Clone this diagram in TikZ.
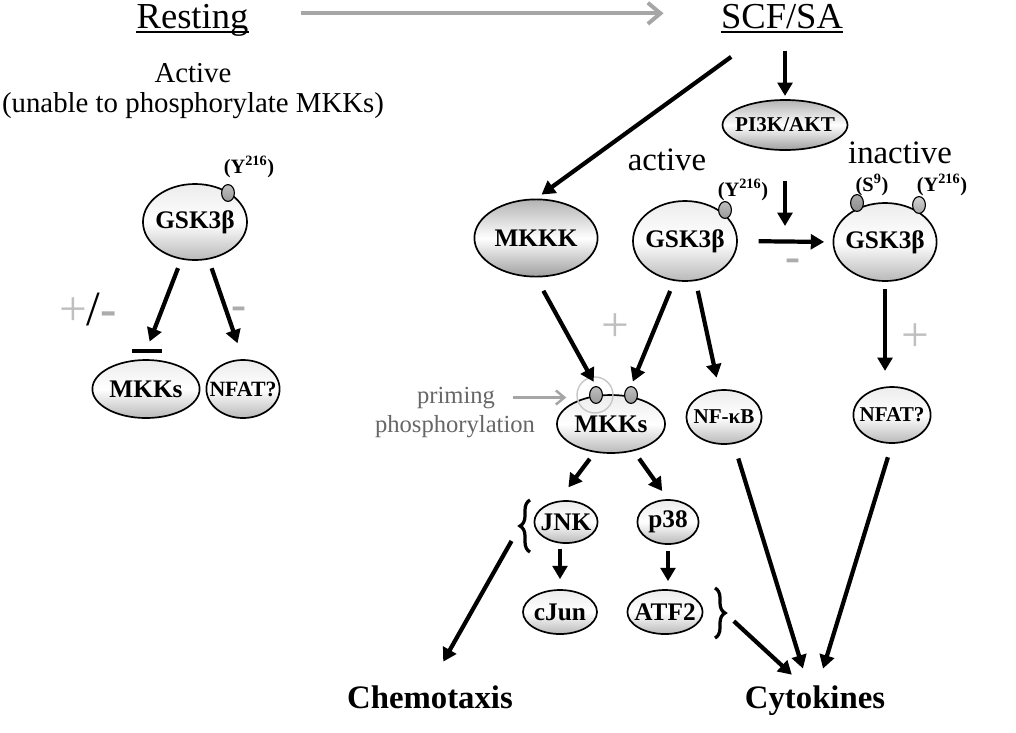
\documentclass[tikz,border=0pt]{standalone}
\usepackage{fontspec}
\setmainfont{Liberation Serif}
\usetikzlibrary{shapes, positioning, arrows.meta, calc}
\usetikzlibrary{decorations.pathreplacing}

\begin{document}
\begin{tikzpicture}[x=0.025cm, y=-0.025cm,
  lt/.style={ellipse, draw, line width=1.2pt, top color=gray!15, bottom color=gray!55, middle color=white, inner sep=-4pt, font=\fontsize{18}{18}\selectfont\bfseries},
  dk/.style={lt, top color=gray!60, bottom color=gray!75, middle color=white},
  sm/.style={font=\fontsize{15}{15}\selectfont\bfseries},
  pdot/.style={ellipse, draw, line width=0.8pt, top color=gray!50, bottom color=gray!80, minimum width=0.32cm, minimum height=0.42cm, inner sep=0},
  plbl/.style={inner sep=0, font=\fontsize{14.5}{14.5}\selectfont\bfseries},
  ttl/.style={inner sep=0, font=\fontsize{26}{26}\selectfont},
  txt/.style={inner sep=0, font=\fontsize{20.5}{20.5}\selectfont},
  txtb/.style={inner sep=0, font=\fontsize{23.3}{23.3}\selectfont},
  gtxt/.style={inner sep=0, text=black!60, font=\fontsize{17.5}{17.5}\selectfont},
  endtxt/.style={inner sep=0, font=\fontsize{23.3}{23.3}\selectfont\bfseries},
  plussign/.style={inner sep=0, text=gray!50, font=\fontsize{35}{35}\selectfont},
  minussign/.style={inner sep=0, text=gray!65, font=\fontsize{32}{32}\selectfont\bfseries},
  arr/.style={line width=3pt, -{Triangle[length=9.5pt, width=10.5pt]}},
  garr/.style={draw=gray!70, line width=2.8pt, -{Straight Barb[length=9pt, width=15pt]}},
  garr2/.style={draw=gray!70, line width=1.8pt, -{Straight Barb[length=6pt, width=10pt]}},
  brc/.style={line width=2.3pt, decorate, decoration={brace, amplitude=0.25cm}}]

\useasboundingbox (0,0) rectangle (1016,732);

% titles
\node[ttl, anchor=base] (resting) at (192.5,28) {Resting};
\node[ttl, anchor=base] (scf) at (782,28) {SCF/SA};
\draw[line width=1pt] ([yshift=-0.1cm]resting.base west) -- ([yshift=-0.1cm]resting.base east);
\draw[line width=1pt] ([yshift=-0.1cm]scf.base west) -- ([yshift=-0.1cm]scf.base east);
\draw[garr, shorten <=1.3cm, shorten >=1.43cm] ($(resting.east)+(0,-6.5)$) -- ($(resting.east -| scf.west)+(0,-6.5)$);

% resting state
\node[txt, anchor=base] (activeL) at (193,82) {Active};
\node[txt, anchor=base] (unable) at (193,112) {(unable to phosphorylate MKKs)};
\node[lt, minimum width=2.6cm, minimum height=1.9cm] (gskL) at (195,222) {GSK3β};
\node[pdot] (dotL) at (228,193) {};
\node[plbl] (yL) at (249,167) {(Y\textsuperscript{216})};
\node[fill=black, minimum width=0.75cm, minimum height=0.12cm, inner sep=0] (barL) at (147,351) {};
\node[lt, minimum width=2.68cm, minimum height=1.45cm] (mkksL) at (146,389) {MKKs};
\node[lt, minimum width=1.83cm, minimum height=1.45cm, inner xsep=-9pt, font=\fontsize{15.5}{15.5}\selectfont\bfseries] (nfatL) at (243,389) {NFAT?};
\node[inner sep=0, anchor=base, font=\fontsize{35}{35}\selectfont] (pmL) at (88,325) {{\color{gray!50}+}/{\color{gray!65}\bfseries -}};
\node[minussign] (mL) at (239,313) {-};

\draw[arr, shorten <=0.23cm, shorten >=0.18cm] (gskL.250) -- (barL.north);
\draw[arr, shorten <=0.23cm, shorten >=0.42cm] (gskL.290) -- (nfatL.north);

% stimulated state
\node[dk, sm, minimum width=3.1cm, minimum height=1.25cm] (pi3k) at (785,125) {PI3K/AKT};
\node[dk, minimum width=3.08cm, minimum height=1.93cm] (mkkk) at (536,238) {MKKK};
\node[txtb, anchor=base] (activeR) at (667,170) {active};
\node[lt, minimum width=2.6cm, minimum height=2cm] (gskA) at (685,241) {GSK3β};
\node[pdot] (dotA) at (725,210) {};
\node[plbl] (yA) at (743,190) {(Y\textsuperscript{216})};
\node[txtb, anchor=base] (inactive) at (900,163) {inactive};
\node[lt, minimum width=2.58cm, minimum height=1.95cm] (gskI) at (885,242) {GSK3β};
\node[pdot, top color=gray!65, bottom color=gray!90] (dotS) at (857,203) {};
\node[pdot, top color=gray!35, bottom color=gray!70] (dotY) at (919,205) {};
\node[plbl] (sI) at (872,185) {(S\textsuperscript{9})};
\node[plbl] (yI) at (942,185) {(Y\textsuperscript{216})};
\node[minussign] (mA) at (793,265) {-};

\node[lt, minimum width=2.7cm, minimum height=1.45cm] (mkksR) at (611,424) {MKKs};
\node[pdot] (dot1) at (596,395) {};
\node[pdot] (dot2) at (631,395) {};
\node[circle, draw=gray!45, line width=1pt, minimum size=0.9cm, inner sep=0] (ring) at (595,395) {};
\node[gtxt, anchor=base] (priming) at (456,403) {priming};
\node[gtxt, anchor=base] (phos) at (455,432) {phosphorylation};
\node[lt, sm, minimum width=1.88cm, minimum height=1.35cm] (nfkb) at (724,417) {NF-κB};
\node[lt, sm, minimum width=1.93cm, minimum height=1.4cm] (nfatR) at (892,415) {NFAT?};
\node[plussign] (pA) at (615,328) {+};
\node[plussign] (pI) at (915,338) {+};

\node[lt, minimum width=1.58cm, minimum height=1.05cm] (jnk) at (566,522) {JNK};
\node[lt, minimum width=1.53cm, minimum height=1.1cm] (p38) at (668,522) {p38};
\node[lt, minimum width=1.85cm, minimum height=1.1cm] (cjun) at (560,612) {cJun};
\node[lt, minimum width=1.88cm, minimum height=1.1cm] (atf2) at (665,612) {ATF2};
\node[endtxt, anchor=base] (chemo) at (430,708) {Chemotaxis};
\node[endtxt, anchor=base] (cytok) at (815,708) {Cytokines};

% braces
\draw[brc] (530,552) -- (530,500);
\draw[brc] (715,588) -- (715,638);
\coordinate (bL) at (520,526);
\coordinate (bR) at (725,613);

% connectors
\draw[arr, shorten <=0.55cm, shorten >=0.08cm] (pi3k.north |- scf.south) -- (pi3k.north);
\draw[arr, shorten <=1.2cm, shorten >=0.17cm] ($(scf.south)+(-12,0)$) -- (mkkk.north);
\draw[arr, shorten <=0.75cm, shorten >=0.4cm] (pi3k.south) -- (pi3k.south |- gskI.west);
\draw[arr, shorten <=0.52cm, shorten >=0.21cm] (gskA.east) -- (gskI.west);
\draw[arr, shorten <=0.38cm, shorten >=0.12cm] (mkkk.south) -- (dot1.north);
\draw[arr, shorten <=0.27cm, shorten >=0.12cm] (gskA.255) -- (dot2.north);
\draw[arr, shorten <=0.25cm, shorten >=0.3cm] (gskA.285) -- (nfkb.100);
\draw[arr, shorten <=0.18cm, shorten >=0.38cm] (gskI.south) -- (gskI.south |- nfatR.north);
\draw[garr2, shorten <=0.45cm, shorten >=0.25cm] (priming.east) -- (priming.east -| ring.west);
\draw[arr, shorten <=0.2cm, shorten >=0.42cm] (mkksR.240) -- (jnk.110);
\draw[arr, shorten <=0.23cm, shorten >=0.25cm] (mkksR.310) -- (p38.north);
\draw[arr, shorten <=0.12cm, shorten >=0.25cm] (cjun.north |- jnk.south) -- (cjun.north);
\draw[arr, shorten <=0.15cm, shorten >=0.2cm] (p38.south) -- (p38.south |- atf2.north);
\draw[arr, shorten <=0.43cm, shorten >=0.67cm] (bL) -- (chemo.north);
\draw[arr, shorten <=0.3cm, shorten >=0.38cm] (bR) -- ($(cytok.north)+(-12,0)$);
\draw[arr, shorten <=0.38cm, shorten >=0.43cm] (nfkb.290) -- ($(cytok.north)+(-7,0)$);
\draw[arr, shorten <=0.35cm, shorten >=0.43cm] (nfatR.south) -- ($(cytok.north)+(3,0)$);
\end{tikzpicture}
\end{document}
